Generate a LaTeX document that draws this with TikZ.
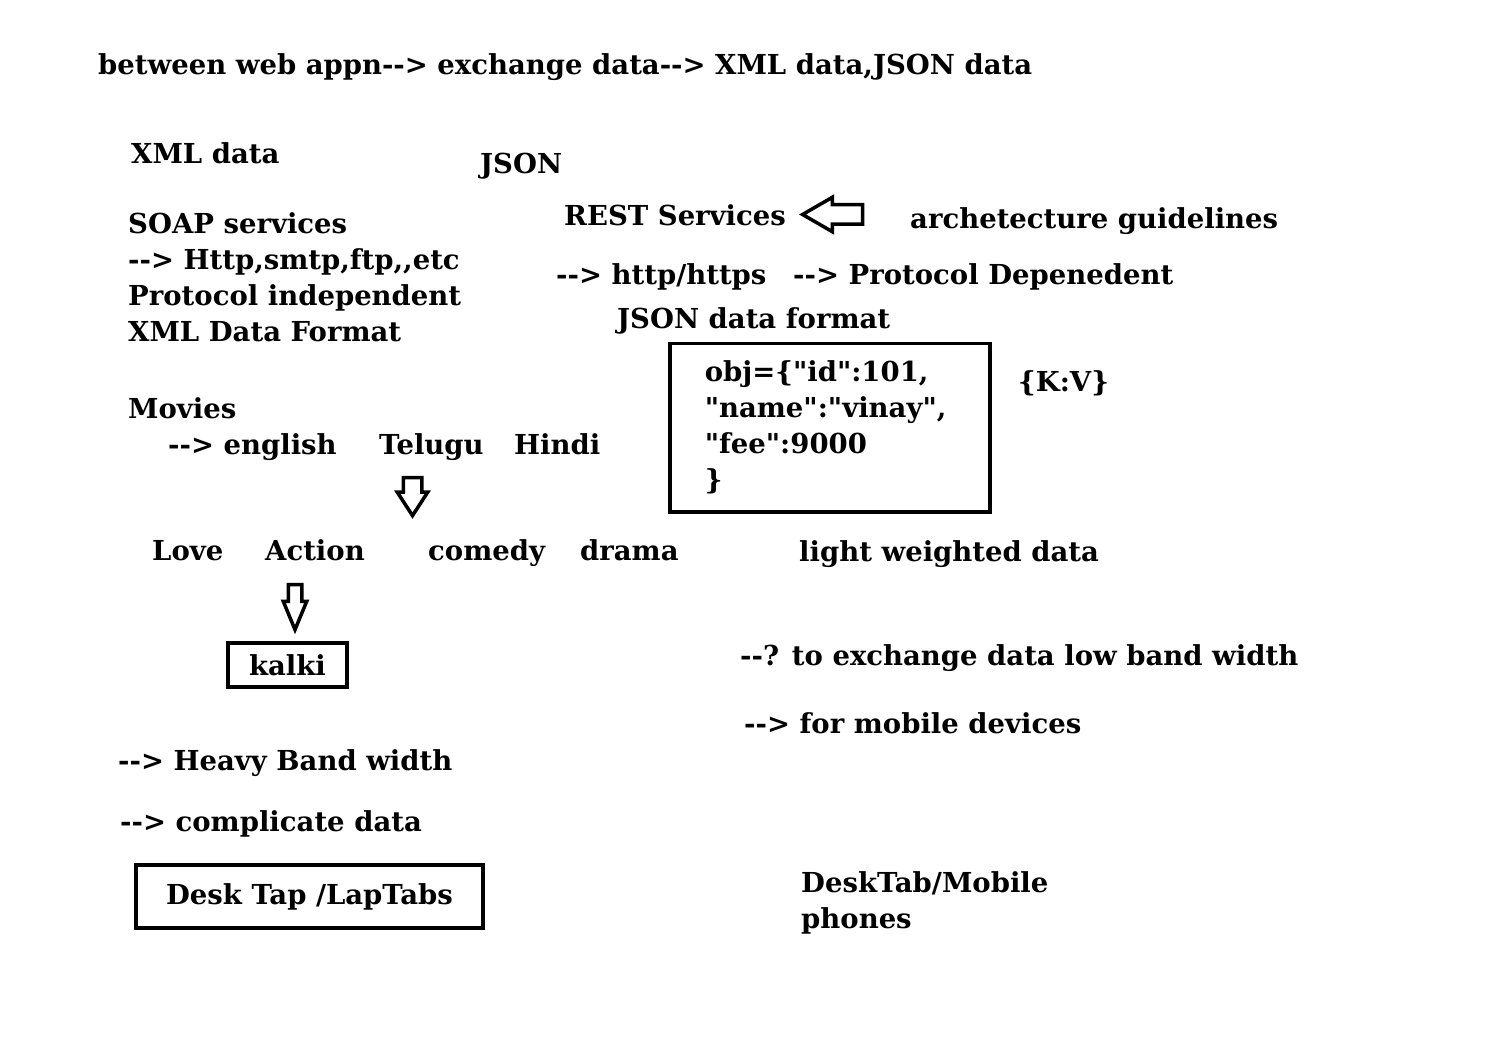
\documentclass[tikz,border=0pt]{standalone}
\usepackage{fontspec}
\newfontfamily\plainfont{DejaVu Serif}
\usetikzlibrary{shapes,arrows,positioning}
\tikzset{%
	txt/.style={anchor=base west, inner sep=0pt, font=\plainfont\bfseries\fontsize{27.5}{36}\selectfont},
	boxnode/.style={draw, line width=3.5pt, inner sep=0pt, font=\plainfont\bfseries\fontsize{27.5}{36}\selectfont},
	hollow/.style={single arrow, draw, line width=3.5pt, inner sep=0pt, single arrow head indent=0pt}
}

\begin{document}
\begin{tikzpicture}[x=1pt, y=-1pt]
			\useasboundingbox (0,0) rectangle (1492,1048);
			\node[txt] (title) at (98,75) {between web appn--> exchange data--> XML data,JSON data};

			\node[txt] (xml) at (131,164) {XML data};
			\node[txt] (json) at (480,174) {JSON};

			\node[txt] (soap) at (128,234) {SOAP services};
			\node[txt] (http) at ([yshift=-36pt]soap.base west) {--> Http,smtp,ftp,,etc};
			\node[txt] (indep) at ([yshift=-36pt]http.base west) {Protocol independent};
			\node[txt] (xmlfmt) at ([yshift=-36pt]indep.base west) {XML Data Format};

			\node[txt] (rest) at (564,226) {REST Services};
			\node[txt] (guide) at (910,229) {archetecture guidelines};
			\node[hollow, minimum height=60pt, single arrow head extend=7.5pt, inner ysep=8pt, single arrow tip angle=60, rotate=180] (restarr) at (841,214.5) {};
			\node[txt] (https) at (556,285) {--> http/https};
			\node[txt] (dep) at (793,285) {--> Protocol Depenedent};
			\node[txt] (jsonfmt) at (617,329) {JSON data format};

			\node[boxnode, anchor=north west, minimum width=320pt, minimum height=168pt, text width=250pt, inner xsep=35pt, align=left] (obj) at (668,342) {obj=\{"id":101,\\"name":"vinay",\\"fee":9000\\\}};
			\node[txt] (kv) at (1018,392) {\{K:V\}};

			\node[txt] (movies) at (128,419) {Movies};
			\node[txt] (english) at (168,455) {--> english};
			\node[txt] (telugu) at (379,455) {Telugu};
			\node[txt] (hindi) at (514,455) {Hindi};
			\node[hollow, minimum height=38pt, single arrow head extend=6pt, inner ysep=7.5pt, single arrow tip angle=66, rotate=-90] (telarr) at (412.5,489.5) {};

			\node[txt] (love) at (152,560) {Love};
			\node[txt] (action) at (265,560) {Action};
			\node[txt] (comedy) at (428,560) {comedy};
			\node[txt] (drama) at (580,560) {drama};
			\node[txt] (light) at (799,561) {light weighted data};
			\node[hollow, minimum height=45pt, single arrow head extend=5pt, inner ysep=5pt, single arrow tip angle=45, rotate=-90] (actarr) at (295,599) {};

			\node[boxnode, minimum width=119pt, minimum height=44pt] (kalki) at (287.5,665) {kalki};
			\node[txt] (low) at (740,665) {--? to exchange data low band width};
			\node[txt] (mobile) at (744,733) {--> for mobile devices};

			\node[txt] (heavy) at (118,770) {--> Heavy Band width};
			\node[txt] (compl) at (120,831) {--> complicate data};
			\node[boxnode, minimum width=347pt, minimum height=63pt] (desk) at (309.5,896.5) {Desk Tap /LapTabs};
			\node[txt] (desktab) at (801,892) {DeskTab/Mobile};
			\node[txt] (phones) at ([yshift=-36pt]desktab.base west) {phones};
		\end{tikzpicture}
\end{document}
